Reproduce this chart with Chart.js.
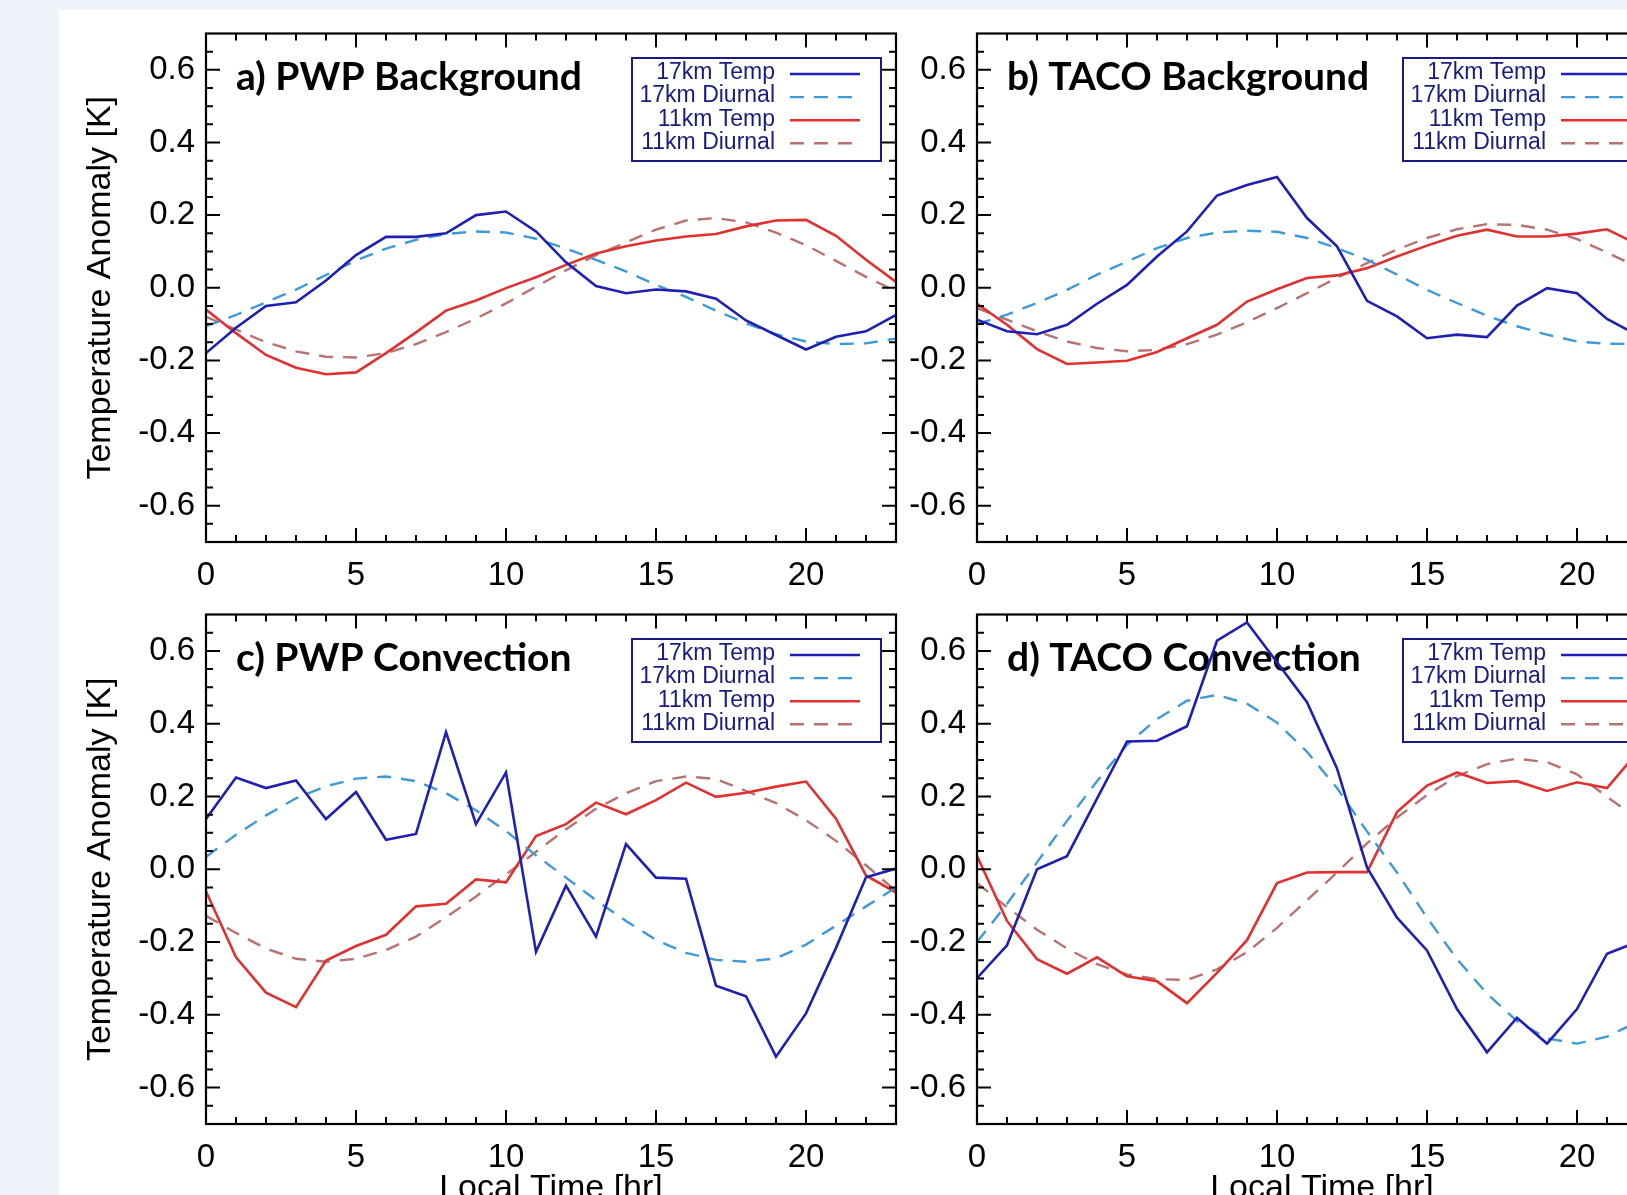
<!DOCTYPE html>
<html>
<head>
<meta charset="utf-8">
<title>Temperature anomaly diurnal cycle</title>
<script src="https://cdn.jsdelivr.net/npm/chart.js@4.4.1/dist/chart.umd.min.js"></script>
<style>
  html, body { margin: 0; padding: 0; }
  body { width: 1627px; height: 1195px; overflow: hidden; position: relative; background: #eef2f9; }
  #sheet { position: absolute; left: 59px; top: 10px; width: 1568px; height: 1185px; background: #fff; }
  canvas { position: absolute; }
</style>
</head>
<body>
<div id="sheet"></div>
<canvas id="panelA" width="870" height="600" style="left:59px;top:10px"></canvas>
<canvas id="panelB" width="870" height="600" style="left:830px;top:10px"></canvas>
<canvas id="panelC" width="870" height="640" style="left:59px;top:590.5px"></canvas>
<canvas id="panelD" width="870" height="640" style="left:830px;top:590.5px"></canvas>
<script>
// ── Data ─────────────────────────────────────────────
const hours = [0,1,2,3,4,5,6,7,8,9,10,11,12,13,14,15,16,17,18,19,20,21,22,23];
const xTickValues = [0, 5, 10, 15, 20];
const yTickValues = [-0.6, -0.4, -0.2, 0, 0.2, 0.4, 0.6];
const seriesNames = ['17km Temp', '17km Diurnal', '11km Temp', '11km Diurnal'];
const panelTitles = ['a) PWP Background', 'b) TACO Background', 'c) PWP Convection', 'd) TACO Convection'];

// a) PWP Background
const pwpBg17Temp    = [-0.18,-0.11,-0.05,-0.04,0.02,0.09,0.14,0.14,0.15,0.20,0.21,0.155,0.07,0.005,-0.015,-0.005,-0.01,-0.03,-0.09,-0.13,-0.17,-0.135,-0.12,-0.075];
const pwpBg17Diurnal = [-0.106,-0.075,-0.04,-0.005,0.035,0.075,0.108,0.132,0.148,0.155,0.152,0.135,0.108,0.077,0.045,0.008,-0.025,-0.063,-0.098,-0.128,-0.148,-0.155,-0.153,-0.14];
const pwpBg11Temp    = [-0.06,-0.125,-0.185,-0.22,-0.238,-0.233,-0.18,-0.123,-0.063,-0.035,-0.001,0.029,0.063,0.094,0.114,0.13,0.141,0.148,0.169,0.185,0.187,0.143,0.077,0.016];
const pwpBg11Diurnal = [-0.08,-0.115,-0.15,-0.175,-0.19,-0.192,-0.18,-0.155,-0.122,-0.085,-0.043,0.003,0.048,0.09,0.125,0.16,0.185,0.192,0.18,0.152,0.117,0.074,0.03,-0.01];

// b) TACO Background
const tacoBg17Temp    = [-0.088,-0.12,-0.128,-0.102,-0.044,0.008,0.086,0.155,0.254,0.283,0.305,0.192,0.114,-0.036,-0.079,-0.139,-0.129,-0.136,-0.049,-0.001,-0.015,-0.086,-0.13,-0.11];
const tacoBg17Diurnal = [-0.10,-0.074,-0.042,-0.006,0.036,0.072,0.109,0.137,0.152,0.157,0.154,0.137,0.109,0.077,0.036,-0.006,-0.042,-0.077,-0.106,-0.129,-0.148,-0.154,-0.155,-0.145];
const tacoBg11Temp    = [-0.044,-0.102,-0.169,-0.21,-0.206,-0.201,-0.177,-0.139,-0.102,-0.038,-0.004,0.027,0.034,0.054,0.086,0.116,0.143,0.16,0.141,0.141,0.149,0.161,0.12,0.06];
const tacoBg11Diurnal = [-0.056,-0.088,-0.12,-0.148,-0.166,-0.175,-0.171,-0.155,-0.129,-0.095,-0.056,-0.015,0.027,0.068,0.105,0.137,0.161,0.175,0.173,0.16,0.134,0.097,0.058,0.015];

// c) PWP Convection
const pwpCv17Temp    = [0.138,0.252,0.223,0.244,0.138,0.212,0.081,0.097,0.377,0.124,0.266,-0.227,-0.045,-0.185,0.069,-0.023,-0.026,-0.32,-0.349,-0.515,-0.396,-0.216,-0.022,0.002];
const pwpCv17Diurnal = [0.034,0.095,0.148,0.195,0.228,0.249,0.255,0.242,0.209,0.162,0.105,0.038,-0.023,-0.085,-0.142,-0.194,-0.23,-0.249,-0.254,-0.245,-0.207,-0.155,-0.102,-0.05];
const pwpCv11Temp    = [-0.061,-0.242,-0.339,-0.379,-0.251,-0.211,-0.18,-0.102,-0.095,-0.028,-0.036,0.091,0.124,0.183,0.151,0.19,0.238,0.199,0.21,0.227,0.241,0.139,-0.017,-0.064];
const pwpCv11Diurnal = [-0.128,-0.175,-0.218,-0.246,-0.254,-0.246,-0.222,-0.185,-0.132,-0.075,-0.014,0.048,0.11,0.166,0.209,0.242,0.255,0.248,0.215,0.182,0.135,0.078,0.011,-0.06];

// d) TACO Convection
const tacoCv17Temp    = [-0.299,-0.209,0.0,0.036,0.194,0.351,0.353,0.393,0.628,0.678,0.569,0.459,0.277,0.005,-0.133,-0.223,-0.384,-0.503,-0.408,-0.479,-0.384,-0.232,-0.2,-0.15];
const tacoCv17Diurnal = [-0.2,-0.095,0.019,0.133,0.242,0.342,0.413,0.463,0.479,0.455,0.403,0.323,0.223,0.104,-0.009,-0.133,-0.247,-0.342,-0.417,-0.465,-0.479,-0.46,-0.42,-0.35];
const tacoCv11Temp    = [0.036,-0.142,-0.247,-0.287,-0.242,-0.294,-0.308,-0.368,-0.285,-0.195,-0.038,-0.009,-0.008,-0.008,0.157,0.23,0.266,0.237,0.242,0.215,0.239,0.223,0.32,0.3];
const tacoCv11Diurnal = [-0.038,-0.104,-0.166,-0.218,-0.261,-0.289,-0.302,-0.304,-0.275,-0.228,-0.161,-0.085,-0.009,0.071,0.142,0.204,0.256,0.289,0.304,0.294,0.261,0.199,0.14,0.07];

// ── Styles ───────────────────────────────────────────
const seriesStyles = [
  { color: '#1f1fb4', dash: [],       width: 2.6 },
  { color: '#3d9ad8', dash: [14, 10], width: 2.4 },
  { color: '#e03030', dash: [],       width: 2.6 },
  { color: '#b87272', dash: [14, 10], width: 2.4 }
];
const FONT = '"Liberation Sans", Arial, Helvetica, sans-serif';
const NAVY = '#1a1a80';

// ── Plugins ──────────────────────────────────────────
// frame box with inward ticks on all four sides (IDL style)
const frameTicks = {
  id: 'frameTicks',
  afterDatasetsDraw(chart) {
    const { ctx, chartArea: a, scales: { x, y } } = chart;
    ctx.save();
    ctx.strokeStyle = '#000';
    ctx.lineWidth = 2;
    ctx.beginPath();
    for (let h = 1; h < 23; h++) {
      const px = x.getPixelForValue(h);
      const len = xTickValues.includes(h) ? 14 : 7;
      ctx.moveTo(px, a.bottom); ctx.lineTo(px, a.bottom - len);
      ctx.moveTo(px, a.top);    ctx.lineTo(px, a.top + len);
    }
    for (let i = -13; i <= 13; i++) {
      const py = y.getPixelForValue(i * 0.05);
      const len = i % 4 === 0 ? 14 : 7;
      ctx.moveTo(a.left, py);  ctx.lineTo(a.left + len, py);
      ctx.moveTo(a.right, py); ctx.lineTo(a.right - len, py);
    }
    ctx.stroke();
    ctx.lineWidth = 2.2;
    ctx.strokeRect(a.left, a.top, a.right - a.left, a.bottom - a.top);
    ctx.restore();
  }
};

// bold panel label, drawn under the lines
const panelTitle = {
  id: 'panelTitle',
  beforeDatasetsDraw(chart, args, opts) {
    const { ctx, chartArea: a } = chart;
    ctx.save();
    ctx.font = 'bold 39px Lato, "Open Sans", sans-serif';
    ctx.fillStyle = '#000';
    ctx.textAlign = 'left';
    ctx.textBaseline = 'alphabetic';
    ctx.fillText(opts.text, a.left + 30, a.top + 56);
    ctx.restore();
  }
};

// boxed legend: label right-aligned, line sample on the right
const boxLegend = {
  id: 'boxLegend',
  afterDatasetsDraw(chart) {
    const { ctx, chartArea: a } = chart;
    const bx = a.left + 426, by = a.top + 24.5, bw = 249, bh = 103;
    ctx.save();
    ctx.fillStyle = '#fff';
    ctx.fillRect(bx, by, bw, bh);
    ctx.strokeStyle = NAVY;
    ctx.lineWidth = 2;
    ctx.strokeRect(bx, by, bw, bh);
    ctx.font = '23px ' + FONT;
    ctx.textAlign = 'right';
    ctx.textBaseline = 'middle';
    chart.data.datasets.forEach((ds, i) => {
      const ry = by + 16 + i * 23.1;
      ctx.fillStyle = NAVY;
      ctx.fillText(ds.label, a.left + 569, ry - 1);
      ctx.strokeStyle = ds.borderColor;
      ctx.lineWidth = ds.borderWidth;
      ctx.setLineDash(ds.borderDash || []);
      ctx.beginPath();
      ctx.moveTo(a.left + 584, ry);
      ctx.lineTo(a.left + 654, ry);
      ctx.stroke();
      ctx.setLineDash([]);
    });
    ctx.restore();
  }
};

// ── Panels ───────────────────────────────────────────
function makePanel(canvasId, title, series, xAxisHeight, showXTitle, showYTitle) {
  const datasets = seriesNames.map((name, i) => ({
    label: name,
    data: hours.map((h, k) => ({ x: h, y: series[i][k] })),
    borderColor: seriesStyles[i].color,
    borderDash: seriesStyles[i].dash,
    borderWidth: seriesStyles[i].width,
    pointRadius: 0,
    tension: 0,
    fill: false
  }));

  new Chart(document.getElementById(canvasId), {
    type: 'line',
    data: { datasets },
    options: {
      responsive: false,
      animation: false,
      layout: { padding: { top: 23.5, right: 33, left: 0, bottom: 0 } },
      plugins: {
        legend: { display: false },
        tooltip: { enabled: false },
        panelTitle: { text: title }
      },
      scales: {
        x: {
          type: 'linear', min: 0, max: 23,
          grid: { display: false, drawTicks: false },
          border: { display: false },
          afterBuildTicks: s => { s.ticks = xTickValues.map(v => ({ value: v })); },
          afterFit: s => { s.height = xAxisHeight; s.paddingLeft = 0; s.paddingRight = 0; },
          ticks: { font: { family: FONT, size: 33 }, color: '#000', padding: 14, autoSkip: false, maxRotation: 0,
                   callback: v => String(v) },
          title: { display: showXTitle, text: 'Local Time [hr]', color: '#000',
                   font: { family: FONT, size: 34 }, padding: { top: 0, bottom: 22 } }
        },
        y: {
          type: 'linear', min: -0.7, max: 0.7,
          grid: { display: false, drawTicks: false },
          border: { display: false },
          afterBuildTicks: s => { s.ticks = yTickValues.map(v => ({ value: v })); },
          afterFit: s => { s.width = 147; s.paddingTop = 0; s.paddingBottom = 0; },
          ticks: { font: { family: FONT, size: 33 }, color: '#000', padding: 11,
                   callback: v => Number(v).toFixed(1) },
          title: { display: showYTitle, text: 'Temperature Anomaly [K]', color: '#000',
                   font: { family: FONT, size: 34 }, padding: { top: 21, bottom: 0 } }
        }
      }
    },
    plugins: [panelTitle, frameTicks, boxLegend]
  });
}

makePanel('panelA', panelTitles[0], [pwpBg17Temp, pwpBg17Diurnal, pwpBg11Temp, pwpBg11Diurnal], 68, false, true);
makePanel('panelB', panelTitles[1], [tacoBg17Temp, tacoBg17Diurnal, tacoBg11Temp, tacoBg11Diurnal], 68, false, false);
makePanel('panelC', panelTitles[2], [pwpCv17Temp, pwpCv17Diurnal, pwpCv11Temp, pwpCv11Diurnal], 107, true, true);
makePanel('panelD', panelTitles[3], [tacoCv17Temp, tacoCv17Diurnal, tacoCv11Temp, tacoCv11Diurnal], 107, true, false);
</script>
</body>
</html>
